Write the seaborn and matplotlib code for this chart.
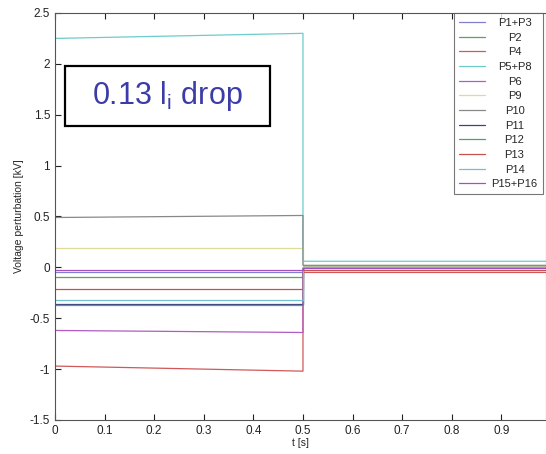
import numpy as np
import pandas as pd
import seaborn as sns
import matplotlib.pyplot as plt
from matplotlib.patches import Rectangle

sns.set_style("white")
plt.rcParams['font.family'] = ['Liberation Sans', 'DejaVu Sans']

## --- series names and the perturbation [kV]
names = ['P1+P3', 'P2', 'P4', 'P5+P8', 'P6', 'P9', 'P10', 'P11',
         'P12', 'P13', 'P14', 'P15+P16']
v_start = [-0.05, -0.09, -0.97, 2.25, -0.62, 0.19, 0.49, -0.36,
           -0.37, -0.21, -0.32, -0.03]     # value at t = 0
v_end = [-0.05, -0.09, -1.02, 2.30, -0.64, 0.19, 0.51, -0.36,
         -0.37, -0.21, -0.32, -0.03]       # value just before the drop
v_after = [0.00, 0.00, -0.05, 0.06, -0.01, 0.01, 0.02, 0.005,
           0.00, -0.025, 0.00, -0.01]      # value after the drop
t_drop = 0.5
t_end = 0.99

colors = ['#8080c8', '#5fa05f', '#d05858', '#6ccccc', '#b05cc0', '#dcdc98',
          '#888888', '#40408a', '#5f9a6a', '#c85050', '#70c0d0', '#a050c0']

## --- long table: each series goes flat, steps at t_drop, then flat again
rows = []
for n, a, b, c in zip(names, v_start, v_end, v_after):
    rows += [(n, 0, 0.0, a), (n, 1, t_drop, b), (n, 2, t_drop, c), (n, 3, t_end, c)]
df = pd.DataFrame(rows, columns=['signal', 'k', 't', 'v'])

fig = plt.figure(figsize=(5.46, 4.54), dpi=100)
ax = fig.add_axes([0.1007, 0.0749, 0.8993, 0.8965])

sns.lineplot(data=df, x='t', y='v', hue='signal', palette=colors, sort=False,
             estimator=None, units='signal', linewidth=0.9, ax=ax)

ax.set_xlim(0, t_end)
ax.set_ylim(-1.5, 2.5)
ax.set_xticks(np.arange(0, 1.0, 0.1))
ax.set_xticklabels(['0', '0.1', '0.2', '0.3', '0.4', '0.5', '0.6', '0.7', '0.8', '0.9'])
ax.set_yticks(np.arange(-1.5, 2.51, 0.5))
ax.set_yticklabels(['-1.5', '-1', '-0.5', '0', '0.5', '1', '1.5', '2', '2.5'])
ax.tick_params(direction='in', length=4, labelsize=8.5, colors='#222222',
               top=True, bottom=True, left=True, width=0.8)
for s in ax.spines.values():
    s.set_color('#555555')
    s.set_linewidth(0.8)
ax.set_xlabel('t [s]', fontsize=7.5, labelpad=1)
ax.set_ylabel('Voltage perturbation [kV]', fontsize=7.5, labelpad=4)

leg = ax.legend(loc='upper right', bbox_to_anchor=(0.993, 1.0), fontsize=8,
                frameon=True, fancybox=False, handlelength=2.3, labelspacing=0.42,
                borderpad=0.45, handletextpad=0.6, borderaxespad=0)
leg.get_frame().set_edgecolor('#555555')
leg.get_frame().set_linewidth(0.8)

## --- centre the legend labels like the original
fig.canvas.draw()
r = fig.canvas.get_renderer()
widths = [t.get_window_extent(r).width for t in leg.get_texts()]
for t, w in zip(leg.get_texts(), widths):
    t.set_position(((max(widths) - w) / 2, 0))

## --- annotation box
ax.add_patch(Rectangle((0.02, 0.722), 0.418, 0.148, transform=ax.transAxes,
                       fill=False, edgecolor='black', linewidth=1.6, zorder=5))
ax.text(0.229, 0.796, r'0.13 l$_\mathregular{i}$ drop', transform=ax.transAxes,
        ha='center', va='center', fontsize=22, color='#3c3ca8', zorder=6)

fig.savefig('out.png', dpi=100)
